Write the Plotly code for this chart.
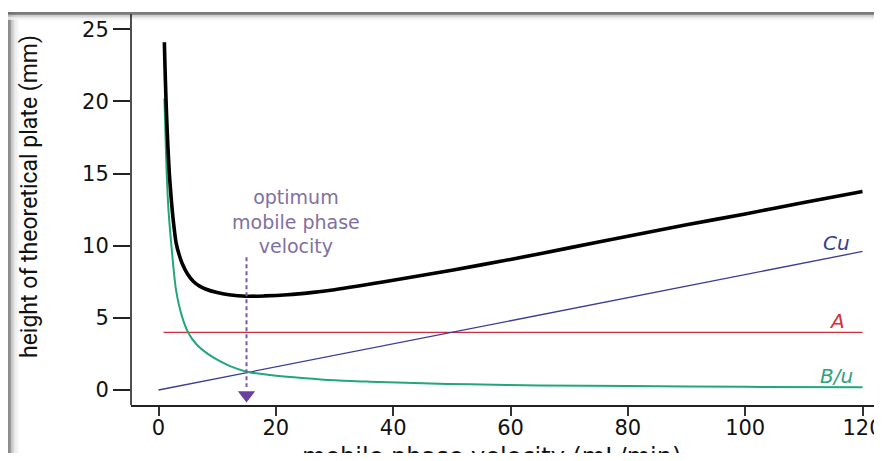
import plotly.graph_objects as go

# ---------------- data ----------------
u_total = [1.0, 1.1, 1.25, 1.4, 1.6, 1.85, 2.1, 2.4, 2.7, 3.0, 3.5, 4.0, 5.0, 6.0, 7.0, 8.0, 10, 12, 15, 18, 22, 26, 30,
           40, 50, 60, 70, 80, 90, 100, 110, 120]
H_total = [24.1, 22.5, 20.5, 18.8, 16.9, 15.0, 13.6, 12.2, 11.1, 10.2, 9.4, 8.8, 8.0, 7.5, 7.2, 7.0, 6.75, 6.6, 6.5,
           6.52, 6.6, 6.75, 6.95, 7.6, 8.3, 9.05, 9.85, 10.65, 11.45, 12.2, 13.0, 13.75]

u_Bu = [1.0, 1.2, 1.4, 1.7, 2.2, 3.0, 4.0, 5.1, 6.5, 8.4, 10, 12.2, 15, 19, 25, 30, 36, 45, 53, 65, 80, 100, 120]
H_Bu = [20.2, 17.5, 15.0, 12.5, 10.0, 6.9, 5.1, 3.95, 3.15, 2.5, 2.1, 1.65, 1.27, 1.04, 0.82, 0.68, 0.58, 0.46, 0.39,
        0.32, 0.27, 0.22, 0.19]

u_Cu = [0, 120]
H_Cu = [0, 9.6]

u_A = [0.85, 120]
H_A = [4.0, 4.0]

u_opt = 15
arrow_top = 9.2

x_ticks = [0, 20, 40, 60, 80, 100, 120]
y_ticks = [0, 5, 10, 15, 20, 25]

# ---------------- geometry helpers (screen pixel -> paper) ----------------
OFF = 8                      # default body margin of the html page
W, H = 882 - 2 * OFF, 461 - 2 * OFF   # figure fits the window without scrollbars
SL, ST, SB = 131, 14, 405            # plot area edges on screen
SR = OFF + W                         # right edge of the figure on screen
L = SL - OFF
T = ST - OFF
PW = SR - SL
PH = SB - ST
B = H - T - PH

U0_PX, U_PER_PX = 158.5, 5.867      # screen position of u=0 and px per unit
Y0_PX, Y_PER_PX = 390.0, 14.43
x_range = [(SL - U0_PX) / U_PER_PX, (SR - U0_PX) / U_PER_PX]
y_range = [(Y0_PX - SB) / Y_PER_PX, (Y0_PX - ST) / Y_PER_PX]


def px(p):
    return (p - SL) / PW


def py(p):
    return (SB - p) / PH


fig = go.Figure()

fig.add_trace(go.Scatter(x=u_A, y=H_A, mode="lines",
                         line=dict(color="#cc2f3e", width=1.3), hoverinfo="skip"))
fig.add_trace(go.Scatter(x=u_Cu, y=H_Cu, mode="lines",
                         line=dict(color="#3c3c96", width=1.3), hoverinfo="skip"))
fig.add_trace(go.Scatter(x=u_Bu, y=H_Bu, mode="lines",
                         line=dict(color="#22a67b", width=2, shape="spline", smoothing=0.8),
                         hoverinfo="skip"))
fig.add_trace(go.Scatter(x=u_total, y=H_total, mode="lines",
                         line=dict(color="black", width=3.6, shape="spline", smoothing=0.8),
                         hoverinfo="skip"))
# optimum arrow
fig.add_trace(go.Scatter(x=[u_opt, u_opt], y=[arrow_top, 0.2], mode="lines",
                         line=dict(color="#7a5aa6", width=2, dash="4px,3px"), hoverinfo="skip"))
fig.add_trace(go.Scatter(x=[u_opt], y=[-0.35], mode="markers",
                         marker=dict(symbol="triangle-down", size=15, color="#6a3fa0"),
                         hoverinfo="skip"))

annotations = [
    dict(x=px(296), y=py(221), xref="paper", yref="paper", xanchor="center", yanchor="middle",
         text="optimum<br>mobile phase<br>velocity",
         showarrow=False, font=dict(family="DejaVu Sans", size=19, color="#7f70a2"),
         align="center"),
]
for sx, sy, txt, col in [(836, 243, "<i>Cu</i>", "#3b3b8f"),
                         (837, 321, "<i>A</i>", "#d4313f"),
                         (836, 376, "<i>B/u</i>", "#2ea37a")]:
    annotations.append(dict(x=px(sx), y=py(sy), xref="paper", yref="paper",
                            xanchor="center", yanchor="middle",
                            text=txt, showarrow=False,
                            font=dict(family="DejaVu Sans", size=20, color=col)))
# axis titles
annotations.append(dict(x=px(30), y=py(197), xref="paper", yref="paper", textangle=-90,
                        xanchor="center", yanchor="middle",
                        text="height of theoretical plate (mm)", showarrow=False,
                        font=dict(family="Roboto", size=23, color="#111")))
annotations.append(dict(x=px(491), y=py(441), xref="paper", yref="paper",
                        xanchor="center", yanchor="top",
                        text="mobile phase velocity (mL/min)", showarrow=False,
                        font=dict(family="DejaVu Sans", size=24, color="#111")))

# frame of the screenshot
shapes = []


def hline(y, x0, x1, color, w):
    shapes.append(dict(type="line", xref="paper", yref="paper", x0=px(x0), x1=px(x1),
                       y0=py(y), y1=py(y), line=dict(color=color, width=w), layer="above"))


def vline(x, y0, y1, color, w):
    shapes.append(dict(type="line", xref="paper", yref="paper", x0=px(x), x1=px(x),
                       y0=py(y0), y1=py(y1), line=dict(color=color, width=w), layer="above"))


# left frame gradient
for i, c in enumerate(["#6e6e6e", "#9a9a9a", "#bcbcbc", "#d6d6d6", "#e6e6e6", "#f0f0f0", "#f6f6f6"]):
    vline(9 + i * 1.5, 13, 455, c, 1.6)
# top frame gradient
for i, c in enumerate(["#4a4a4a", "#8a8a8a", "#c4c4c4", "#e4e4e4", "#f2f2f2"]):
    hline(13 + i * 1.5, 5, 882, c, 1.6)
# left axis line of plot
vline(131, 14, 405, "#222", 1.6)

fig.update_layout(
    width=W, height=H,
    margin=dict(l=L, r=0, t=T, b=B, pad=0),
    paper_bgcolor="white", plot_bgcolor="white",
    showlegend=False,
    annotations=annotations,
    shapes=shapes,
    xaxis=dict(range=x_range, tickvals=x_ticks, ticks="outside", ticklen=9, automargin=False,
               tickwidth=2, tickcolor="#333", showline=True, linecolor="#222", linewidth=1.6,
               showgrid=False, zeroline=False, ticklabelstandoff=-6, ticklabeloverflow="allow",
               tickfont=dict(family="DejaVu Sans", size=21, color="#111")),
    yaxis=dict(range=y_range, tickvals=y_ticks, ticks="outside", ticklen=17, automargin=False,
               tickwidth=1.5, tickcolor="#222", showline=False,
               showgrid=False, zeroline=False,
               tickfont=dict(family="DejaVu Sans", size=21, color="#111")),
)

fig.write_html("out.html")
